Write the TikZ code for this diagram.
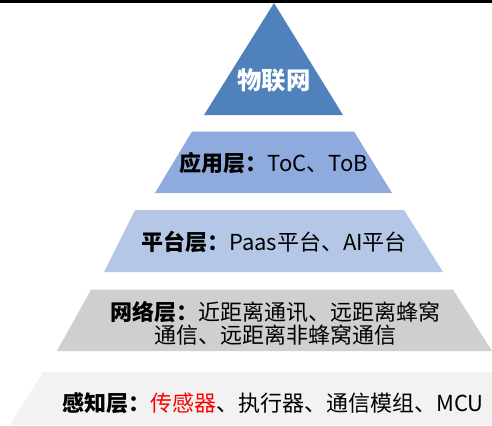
\documentclass[tikz,border=0pt]{standalone}
\usepackage{fontspec}
\setmainfont{Noto Sans CJK SC}
\definecolor{iotblue}{RGB}{79, 129, 189}
\definecolor{appblue}{RGB}{143, 170, 220}
\definecolor{paasblue}{RGB}{180, 199, 231}
\definecolor{netgray}{RGB}{208, 207, 207}
\definecolor{senselight}{RGB}{242, 242, 242}
\definecolor{sensered}{RGB}{255, 0, 0}

\begin{document}
\begin{tikzpicture}[x=0.75pt, y=-0.75pt,
    toptext/.style={text=white, font=\fontsize{18.3}{20}\selectfont\bfseries, inner sep=0pt},
    layertext/.style={text=black, font=\fontsize{16.5}{17.3}\selectfont, align=center, inner sep=0pt}]
            % Frame to fix the size:
            \useasboundingbox                               (0, 0) rectangle (492, 425);
            % Top rule
            \fill[black]                                    (0, 0) rectangle (492, 3);
            % Apex
            \fill[iotblue]    (274.0,   3.0) -- (343.0, 115.0) -- (204.0, 115.0) -- cycle;
            % Application layer
            \fill[appblue]    (192.0, 131.5) -- (354.0, 131.5) -- (392.0, 193.0) -- (155.0, 193.0) -- cycle;
            % Platform layer
            \fill[paasblue]   (135.0, 210.0) -- (404.0, 210.0) -- (443.0, 272.0) -- (104.0, 272.0) -- cycle;
            % Network layer
            \fill[netgray]    ( 91.0, 289.5) -- (453.0, 289.5) -- (492.0, 351.0) -- ( 57.0, 351.0) -- cycle;
            % Sensing layer
            \fill[senselight] ( 43.0, 372.0) -- (492.0, 372.0) -- (492.0, 425.0) -- ( 10.0, 425.0) -- cycle;
            % Labels
            \node[toptext]   (iot)   at (274, 80)  {物联网};
            \node[layertext] (app)   at (274, 163) {\textbf{应用层：}ToC、ToB};
            \node[layertext] (paas)  at (274, 242) {\textbf{平台层：}Paas平台、AI平台};
            \node[layertext] (net)   at (275, 323) {\textbf{网络层：}近距离通讯、远距离蜂窝\\通信、远距离非蜂窝通信};
            \node[layertext] (sense) at (273, 403) {\textbf{感知层：}\textcolor{sensered}{传感器}、执行器、通信模组、MCU};
        \end{tikzpicture}
\end{document}
